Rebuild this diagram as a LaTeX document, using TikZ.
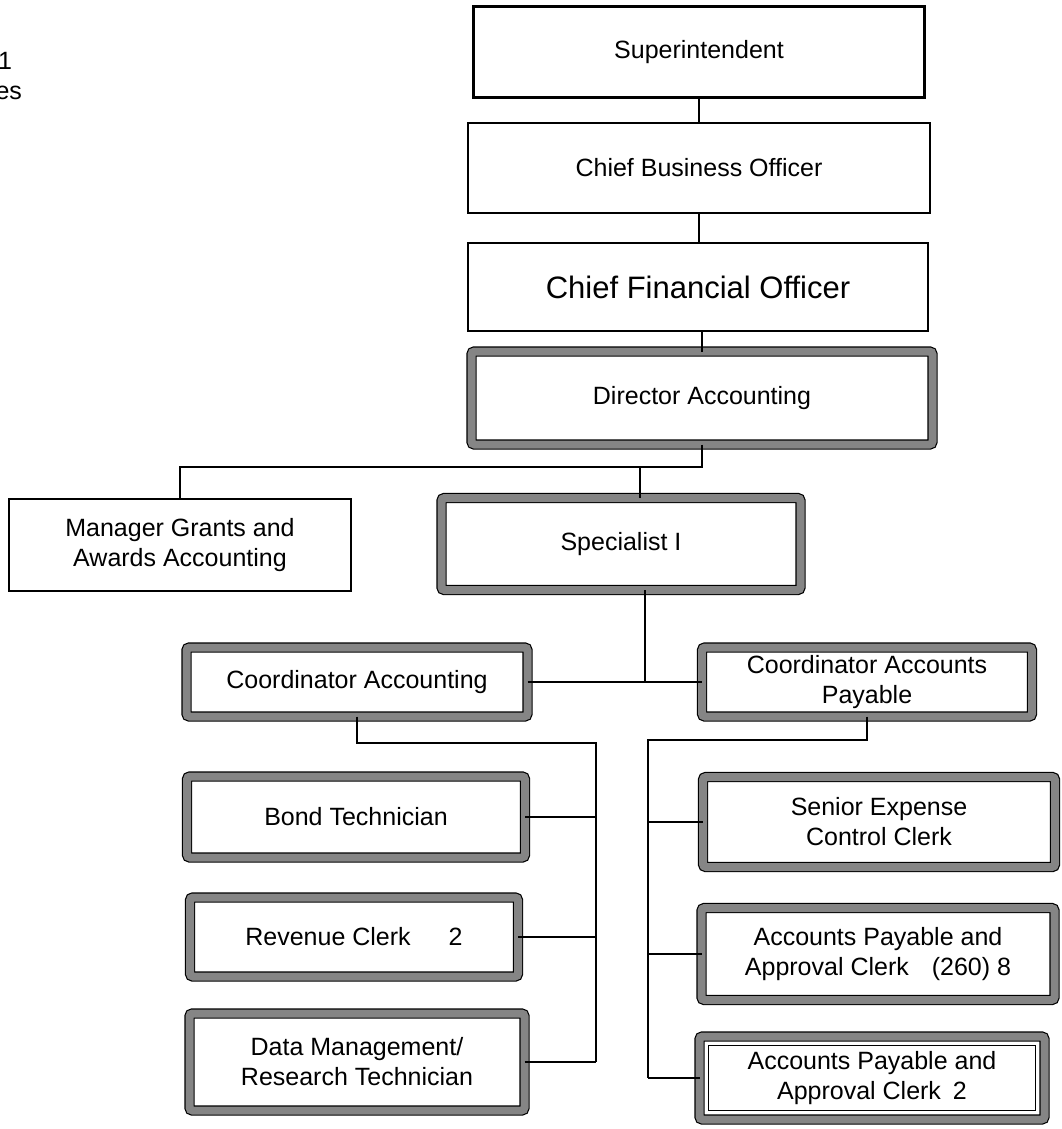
\documentclass[tikz,border=0pt]{standalone}
\usepackage{fontspec}
\setmainfont{Liberation Sans}
\definecolor{band}{gray}{0.52}
\begin{document}
\begin{tikzpicture}[x=1pt,y=-1pt,
  every node/.style={font=\fontsize{25}{30}\selectfont, align=center, inner sep=0pt, outer sep=0pt},
  thinbox/.style={draw=black, line width=2.4pt},
  thickbox/.style={draw=black, line width=1.2pt, double=band, double distance=8pt, rounded corners=3pt},
  conn/.style={draw=black, line width=2.4pt}
]
\fill[white] (0,0) rectangle (1062,1129);
\useasboundingbox (0,0) rectangle (1062,1129);

% partial text at left margin
\node[anchor=base east] (t1) at (12,70) {1};
\node[anchor=base east] (t2) at (22,100) {es};

% boxes
\node[thinbox, minimum width=451pt, minimum height=91pt] (sup) at (699,52) {Superintendent};
\node[thinbox, minimum width=462pt, minimum height=90pt] (cbo) at (699,168) {Chief Business Officer};
\node[thinbox, minimum width=460pt, minimum height=88pt, font=\fontsize{31}{36}\selectfont] (cfo) at (698,287) {Chief Financial Officer};
\node[thickbox, minimum width=461pt, minimum height=93pt] (dir) at (702,398) {Director Accounting};
\node[thinbox, minimum width=342pt, minimum height=92pt] (mgr) at (180,545) {Manager Grants and\\Awards Accounting};
\node[thickbox, minimum width=359pt, minimum height=92pt] (spec) at (621,544) {Specialist I};
\node[thickbox, minimum width=341pt, minimum height=69pt] (ca) at (357,682) {Coordinator Accounting};
\node[thickbox, minimum width=330pt, minimum height=69pt] (cap) at (867,682) {Coordinator Accounts\\Payable};
\node[thickbox, minimum width=338pt, minimum height=81pt] (bond) at (356,817) {Bond Technician};
\node[thickbox, minimum width=328pt, minimum height=79pt] (rev) at (354,937) {Revenue Clerk\hspace{38pt}2};
\node[thickbox, minimum width=335pt, minimum height=97pt] (data) at (357,1062) {Data Management/\\Research Technician};
\node[thickbox, minimum width=352pt, minimum height=90pt] (sen) at (879,822) {Senior Expense\\Control Clerk};
\node[thickbox, minimum width=353pt, minimum height=92pt] (ap8) at (878,954) {Accounts Payable and\\Approval Clerk\hspace{23pt}(260) 8};
\node[thickbox, minimum width=345pt, minimum height=83pt] (ap2) at (872,1078) {Accounts Payable and\\Approval Clerk\hspace{12pt}2};
\draw[line width=1.2pt] ([shift={(9,9)}]ap2.north west) rectangle ([shift={(-9,-9)}]ap2.south east);

% junction coordinates
\coordinate (busA) at (640,467);
\coordinate (s2) at (645,682);
\coordinate (v1) at (596,743);
\coordinate (v2) at (648,740);

% connectors
\draw[conn] (sup.south) -- (sup.south |- cbo.north);
\draw[conn] (cbo.south) -- (cbo.south |- cfo.north);
\draw[conn] (dir.north) -- (dir.north |- cfo.south);
\draw[conn] (dir.south) |- (mgr.north |- busA) -- (mgr.north);
\draw[conn] (busA) -- (busA |- spec.north);
\draw[conn] (s2 |- spec.south) -- (s2);
\draw[conn] (ca.east) -- (cap.west);
\draw[conn] (ca.south) |- (v1) -- (v1 |- data.east);
\draw[conn] (bond.east) -- (bond.east -| v1);
\draw[conn] (rev.east) -- (rev.east -| v1);
\draw[conn] (data.east) -- (data.east -| v1);
\draw[conn] (cap.south) |- (v2) -- (v2 |- ap2.west);
\draw[conn] (sen.west -| v2) -- (sen.west);
\draw[conn] (ap8.west -| v2) -- (ap8.west);
\draw[conn] (ap2.west -| v2) -- (ap2.west);
\end{tikzpicture}
\end{document}
